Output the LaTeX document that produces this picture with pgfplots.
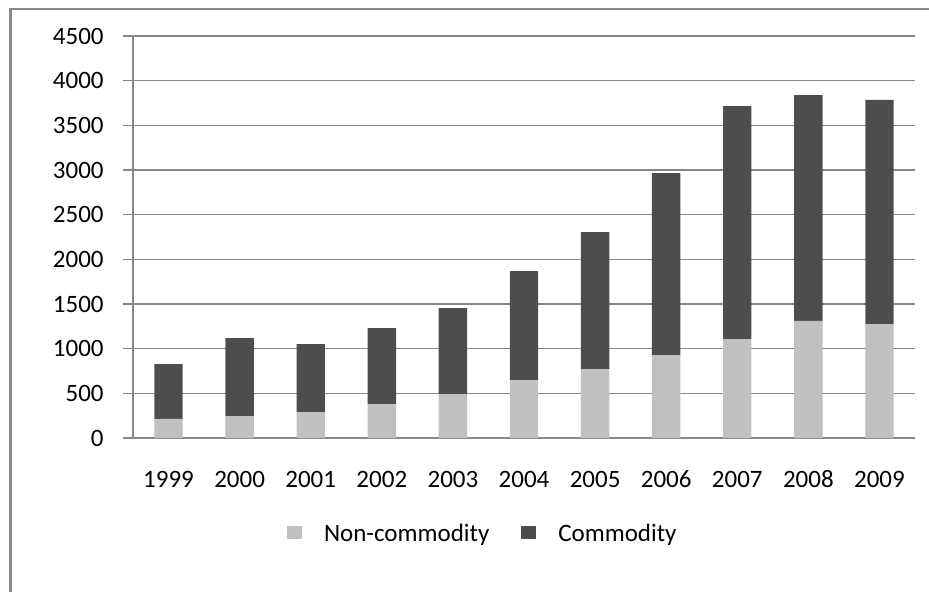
\documentclass[border=0pt]{standalone}
\usepackage{fontspec}
\setmainfont{Carlito}
\usepackage{pgfplots}
\pgfplotsset{compat=1.18}

\definecolor{lightbar}{RGB}{192,192,192}
\definecolor{darkbar}{RGB}{77,77,77}
\definecolor{gridgray}{RGB}{134,134,134}
\definecolor{framegray}{RGB}{136,136,136}

\begin{document}
\fontsize{12.5}{15}\selectfont
\begin{tikzpicture}[x=1pt,y=1pt]
\path[use as bounding box] (0,0) rectangle (464.5,-296);
\draw[framegray, line width=1.4pt] (5.25,-296) -- (5.25,-4.5) -- (464.5,-4.5);
\begin{axis}[
  at={(66.5pt,-219pt)}, anchor=south west,
  scale only axis, width=391pt, height=201pt,
  ybar stacked, bar width=14.2pt,
  xmin=-0.5, xmax=10.5, ymin=0, ymax=4500,
  axis lines*=left,
  axis line style={-, draw=gridgray, line width=0.6pt},
  ymajorgrids, grid style={gridgray, line width=0.6pt},
  tick align=outside,
  major tick length=5pt, minor tick length=4.5pt,
  ytick={0,500,...,4500},
  ytick style={gridgray, line width=0.6pt},
  xtick={0,...,10},
  xticklabels={1999,2000,2001,2002,2003,2004,2005,2006,2007,2008,2009},
  xtick style={draw=none},
  minor xtick={-0.5,0.5,...,10.5},
  minor tick style={gridgray, line width=0.6pt},
  /pgf/number format/assume math mode=true,
  /pgf/number format/1000 sep={},
  yticklabel style={anchor=east, inner xsep=0pt, xshift=-9.5pt},
  xticklabel style={anchor=base, yshift=-19.5pt, inner sep=0pt},
  legend columns=2,
  legend style={at={(0.446,-0.236)}, anchor=center, draw=none, fill=none,
    /tikz/every even column/.append style={column sep=16pt},
    nodes={inner xsep=0pt, text depth=0pt}},
  legend image code/.code={\fill[#1] (0pt,-3.25pt) rectangle (7.5pt,3.25pt);},
  legend cell align=left,
]
\addplot[fill=lightbar, draw=none] coordinates {
(0,213) (1,246) (2,291) (3,380) (4,492) (5,649) (6,772) (7,929) (8,1108) (9,1310) (10,1276)};
\addlegendentry{\hspace{11pt}Non-commodity}
\addplot[fill=darkbar, draw=none] coordinates {
(0,615) (1,873) (2,761) (3,851) (4,963) (5,1220) (6,1534) (7,2037) (8,2608) (9,2529) (10,2508)};
\addlegendentry{\hspace{11pt}Commodity}
\end{axis}
\end{tikzpicture}
\end{document}
